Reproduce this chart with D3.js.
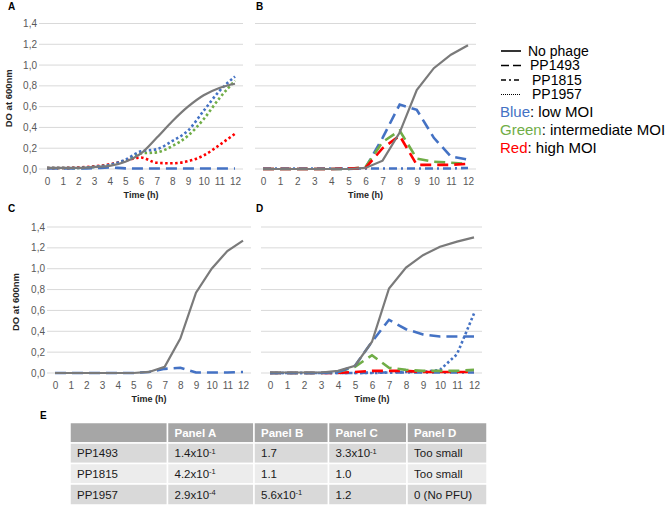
<!DOCTYPE html>
<html>
<head>
<meta charset="utf-8">
<script src="https://cdn.jsdelivr.net/npm/d3@7"></script>
<style>
  body { margin: 0; background: #fff; }
  svg { display: block; font-family: Arial, "Liberation Sans", sans-serif; }
</style>
</head>
<body>
<div id="chart"></div>
<script>
// ---- data ----
const hours = [0, 1, 2, 3, 4, 5, 6, 7, 8, 9, 10, 11, 12];
const yTicks = [0, 0.2, 0.4, 0.6, 0.8, 1.0, 1.2, 1.4];
const yTickLabels = ["0,0", "0,2", "0,4", "0,6", "0,8", "1,0", "1,2", "1,4"];

// panel A
const aNoPhage = [0.01, 0.01, 0.01, 0.02, 0.03, 0.07, 0.15, 0.3, 0.46, 0.6, 0.71, 0.78, 0.82];
const aLow1493 = [0.005, 0.005, 0.005, 0.008, 0.015, 0.006, 0.005, 0.005, 0.005, 0.005, 0.005, 0.005, 0.005];
const aLow1957 = [0.01, 0.01, 0.01, 0.02, 0.04, 0.09, 0.17, 0.19, 0.27, 0.37, 0.56, 0.75, 0.89];
const aMid1957 = [0.01, 0.01, 0.01, 0.02, 0.04, 0.08, 0.15, 0.16, 0.22, 0.32, 0.48, 0.68, 0.85];
const aHigh1957 = [0.01, 0.01, 0.015, 0.025, 0.045, 0.08, 0.11, 0.06, 0.055, 0.075, 0.13, 0.23, 0.34];

// panel B
const bNoPhage = [0, 0, 0, 0, 0, 0, 0.01, 0.08, 0.35, 0.76, 0.97, 1.1, 1.19];
const bLow1815 = [0.005, 0.005, 0.005, 0.005, 0.005, 0.005, 0.005, 0.005, 0.005, 0.005, 0.005, 0.005, 0.01];
const bLow1493 = [0, 0, 0, 0, 0, 0, 0.01, 0.3, 0.62, 0.57, 0.3, 0.12, 0.09];
const bMid1493 = [0, 0, 0, 0, 0, 0, 0.02, 0.26, 0.37, 0.1, 0.07, 0.06, 0.05];
const bHigh1493 = [0, 0, 0, 0, 0, 0.005, 0.01, 0.2, 0.32, 0.04, 0.04, 0.04, 0.05];

// panel C
const cNoPhage = [0, 0, 0, 0, 0, 0, 0.01, 0.06, 0.33, 0.77, 1.0, 1.17, 1.27];
const cLow1493 = [0, 0, 0, 0, 0, 0, 0.01, 0.04, 0.05, 0.005, 0.005, 0.005, 0.01];

// panel D
const dNoPhage = [0.005, 0.005, 0.005, 0.005, 0.02, 0.07, 0.3, 0.81, 1.01, 1.13, 1.21, 1.26, 1.3];
const dLow1815 = [0, 0, 0, 0, 0, 0, 0.005, 0.005, 0.005, 0.005, 0.005, 0.005, 0.005];
const dLow1493 = [0, 0, 0, 0, 0.01, 0.07, 0.3, 0.51, 0.42, 0.37, 0.35, 0.35, 0.35];
const dMid1493 = [0, 0, 0, 0, 0.01, 0.06, 0.17, 0.05, 0.03, 0.02, 0.02, 0.02, 0.03];
const dHigh1493 = [0, 0, 0, 0, 0, 0.01, 0.02, 0.02, 0.02, 0.01, 0.01, 0.01, 0.01];
const dLow1957 = [0, 0, 0, 0, 0, 0, 0, 0.005, 0.01, 0.01, 0.03, 0.18, 0.57];

// table E
const tableHeader = ["", "Panel A", "Panel B", "Panel C", "Panel D"];
const tablePhages = ["PP1493", "PP1815", "PP1957"];
const moiPP1493 = ["1.4x10^-1", "1.7", "3.3x10^-1", "Too small"];
const moiPP1815 = ["4.2x10^-1", "1.1", "1.0", "Too small"];
const moiPP1957 = ["2.9x10^-4", "5.6x10^-1", "1.2", "0 (No PFU)"];

const legendPhages = ["No phage", "PP1493", "PP1815", "PP1957"];
const legendMoi = [["Blue", ": low MOI"], ["Green", ": intermediate MOI"], ["Red", ": high MOI"]];

// ---- styles ----
const GREY = "#7a7a7a", BLUE = "#4472c4", GREEN = "#70ad47", RED = "#ff0000";
const DASH = { none: null, p1493: "11,6", p1815: "8,4,2,4", p1957: "2.5,2.5" };

const width = 669, height = 506;
const svg = d3.select("#chart").append("svg")
  .attr("width", width).attr("height", height);

const panels = [
  { letter: "A", lx: 8, ly: 10, x0: 47, x1: 235, gx: [39, 243], yTop: 23.5, yBot: 169, yAxis: true, titleX: 9,
    curve: d3.curveMonotoneX,
    series: [
      { v: aLow1493, c: BLUE, d: DASH.p1493 },
      { v: aHigh1957, c: RED, d: DASH.p1957 },
      { v: aMid1957, c: GREEN, d: DASH.p1957 },
      { v: aLow1957, c: BLUE, d: DASH.p1957 },
      { v: aNoPhage, c: GREY, d: DASH.none }
    ] },
  { letter: "B", lx: 256, ly: 10, x0: 263, x1: 468, gx: [255, 476], yTop: 23.5, yBot: 169, yAxis: false,
    curve: d3.curveLinear,
    series: [
      { v: bLow1815, c: BLUE, d: DASH.p1815 },
      { v: bLow1493, c: BLUE, d: DASH.p1493 },
      { v: bMid1493, c: GREEN, d: DASH.p1493 },
      { v: bHigh1493, c: RED, d: DASH.p1493 },
      { v: bNoPhage, c: GREY, d: DASH.none }
    ] },
  { letter: "C", lx: 8, ly: 212, x0: 55, x1: 243, gx: [47, 251], yTop: 227, yBot: 373, yAxis: true, titleX: 16,
    curve: d3.curveLinear,
    series: [
      { v: cLow1493, c: BLUE, d: DASH.p1493 },
      { v: cNoPhage, c: GREY, d: DASH.none }
    ] },
  { letter: "D", lx: 256, ly: 212, x0: 270, x1: 474, gx: [261, 482], yTop: 227, yBot: 373, yAxis: false,
    curve: d3.curveLinear,
    series: [
      { v: dLow1815, c: BLUE, d: DASH.p1815 },
      { v: dLow1957, c: BLUE, d: DASH.p1957 },
      { v: dHigh1493, c: RED, d: DASH.p1493 },
      { v: dMid1493, c: GREEN, d: DASH.p1493 },
      { v: dLow1493, c: BLUE, d: DASH.p1493 },
      { v: dNoPhage, c: GREY, d: DASH.none }
    ] }
];

panels.forEach(drawPanel);

function drawPanel(p) {
  const g = svg.append("g");
  const x = d3.scalePoint().domain(hours).range([p.x0, p.x1]);
  const y = d3.scaleLinear().domain([0, 1.4]).range([p.yBot, p.yTop]);

  // gridlines
  g.selectAll(".grid").data(yTicks).enter().append("line")
    .attr("x1", p.gx[0]).attr("x2", p.gx[1])
    .attr("y1", d => y(d)).attr("y2", d => y(d))
    .attr("stroke", "#d9d9d9").attr("stroke-width", 1);

  // y tick labels
  if (p.yAxis) {
    g.selectAll(".ylab").data(yTicks).enter().append("text")
      .attr("x", p.gx[0] - 2).attr("y", d => y(d)).attr("dy", "0.35em")
      .attr("text-anchor", "end").attr("font-size", 10).attr("fill", "#595959")
      .text((d, i) => yTickLabels[i]);
    g.append("text")
      .attr("transform", `translate(${p.titleX},${(p.yTop + p.yBot) / 2 + 2}) rotate(-90)`)
      .attr("dy", "0.35em").attr("text-anchor", "middle")
      .attr("font-size", 9.5).attr("font-weight", "bold").attr("fill", "#262626")
      .text("DO at 600nm");
  }

  // x axis labels
  const xAxis = d3.axisBottom(x).tickSize(0).tickPadding(0);
  const ax = g.append("g").attr("transform", `translate(0,${p.yBot + 16})`).call(xAxis);
  ax.select(".domain").remove();
  ax.selectAll("text").attr("font-size", 10).attr("fill", "#595959")
    .attr("font-family", "Arial, 'Liberation Sans', sans-serif").attr("dy", "0");
  g.append("text")
    .attr("x", (p.x0 + p.x1) / 2).attr("y", p.yBot + 29)
    .attr("text-anchor", "middle").attr("font-size", 9).attr("font-weight", "bold").attr("fill", "#262626")
    .text("Time (h)");

  // panel letter
  g.append("text").attr("x", p.lx).attr("y", p.ly)
    .attr("font-size", 10).attr("font-weight", "bold").text(p.letter);

  // lines
  const line = d3.line().x((d, i) => x(hours[i])).y(d => y(d)).curve(p.curve);
  g.selectAll(".series").data(p.series).enter().append("path")
    .attr("d", s => line(s.v))
    .attr("fill", "none")
    .attr("stroke", s => s.c)
    .attr("stroke-width", s => s.c === GREY ? 2.2 : 2.6)
    .attr("stroke-dasharray", s => s.d);
}

// ---- legend ----
const legend = svg.append("g").attr("font-size", 14).attr("fill", "#000");
const legendRows = [
  { y: 51, dash: null, tx: 528 },
  { y: 65.5, dash: "8,4", tx: 530 },
  { y: 80, dash: "5,3,2,3", tx: 532 },
  { y: 94.5, dash: "1,1", tx: 532 }
];
legendRows.forEach((r, i) => {
  legend.append("line").attr("x1", 501).attr("x2", 521).attr("y1", r.y).attr("y2", r.y)
    .attr("stroke", "#000").attr("stroke-width", i === 3 ? 1 : 1.6)
    .attr("stroke-dasharray", r.dash);
  legend.append("text").attr("x", r.tx).attr("y", r.y).attr("dy", "0.35em").text(legendPhages[i]);
});
const moiColors = [BLUE, GREEN, RED];
legendMoi.forEach((m, i) => {
  const t = legend.append("text").attr("x", 500).attr("y", 112 + i * 18)
    .attr("dy", "0.35em").attr("font-size", 15);
  t.append("tspan").attr("fill", moiColors[i]).text(m[0]);
  t.append("tspan").attr("fill", "#000").text(m[1]);
});

// ---- table E ----
svg.append("text").attr("x", 40).attr("y", 419).attr("font-size", 10).attr("font-weight", "bold").text("E");

const colEdges = [70, 167.5, 254, 328.5, 407, 487];
const rowEdges = [422.5, 443, 463.5, 484, 505];
const tableRows = [tableHeader, [tablePhages[0], ...moiPP1493], [tablePhages[1], ...moiPP1815], [tablePhages[2], ...moiPP1957]];
const rowFill = ["#a6a6a6", "#d9d9d9", "#ececec", "#d9d9d9"];

const table = svg.append("g").attr("font-size", 11.5);
tableRows.forEach((row, ri) => {
  row.forEach((cell, ci) => {
    table.append("rect")
      .attr("x", colEdges[ci]).attr("y", rowEdges[ri])
      .attr("width", colEdges[ci + 1] - colEdges[ci]).attr("height", rowEdges[ri + 1] - rowEdges[ri])
      .attr("fill", rowFill[ri]).attr("stroke", "#fff").attr("stroke-width", 1.5);
    const t = table.append("text")
      .attr("x", colEdges[ci] + 7).attr("y", (rowEdges[ri] + rowEdges[ri + 1]) / 2).attr("dy", "0.35em")
      .attr("fill", ri === 0 ? "#fff" : "#1a1a1a")
      .attr("font-weight", ri === 0 ? "bold" : "normal");
    const parts = cell.split("^");
    t.append("tspan").text(parts[0]);
    if (parts[1]) {
      t.append("tspan").attr("font-size", 7.5).attr("dy", "-0.45em").text(parts[1]);
    }
  });
});
</script>
</body>
</html>
